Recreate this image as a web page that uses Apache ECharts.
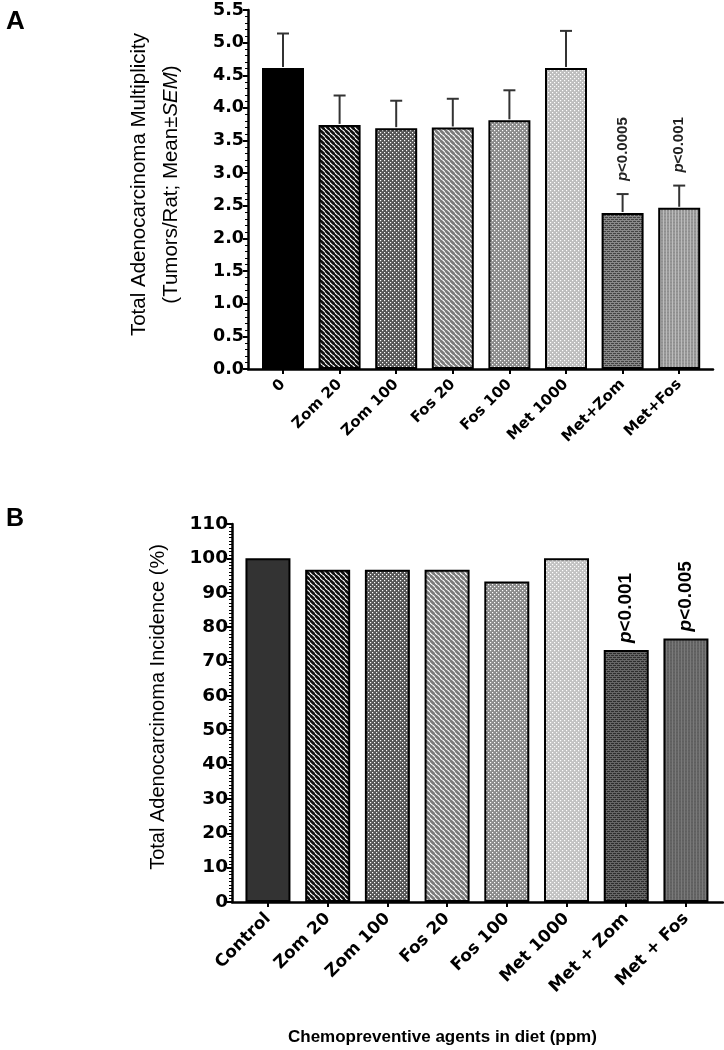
<!DOCTYPE html>
<html><head><meta charset="utf-8">
<script src="https://cdn.jsdelivr.net/npm/echarts@6/dist/echarts.min.js"></script>
<style>html,body{margin:0;padding:0;background:#fff}#c{width:724px;height:1050px}</style>
</head><body><div id="c"></div>
<script>
// ---- data ----
const catsA = ['0', 'Zom 20', 'Zom 100', 'Fos 20', 'Fos 100', 'Met 1000', 'Met+Zom', 'Met+Fos'];
const meanA = [4.61, 3.74, 3.69, 3.70, 3.81, 4.61, 2.39, 2.47];
const semA = [0.53, 0.45, 0.42, 0.44, 0.46, 0.57, 0.29, 0.34];
const pA = ['', '', '', '', '', '', 'p<0.0005', 'p<0.001'];
const catsB = ['Control', 'Zom 20', 'Zom 100', 'Fos 20', 'Fos 100', 'Met 1000', 'Met + Zom', 'Met + Fos'];
const incB = [100, 96.7, 96.7, 96.7, 93.3, 100, 73.3, 76.7];
const pB = ['', '', '', '', '', '', 'p<0.001', 'p<0.005'];

// ---- pattern fills ----
function pat(kind, fg, bg, s) {
  const c = document.createElement('canvas'); c.width = s; c.height = s;
  const g = c.getContext('2d');
  g.fillStyle = bg; g.fillRect(0, 0, s, s);
  g.fillStyle = fg; g.strokeStyle = fg;
  if (kind === 'diag') {
    g.lineWidth = s * 0.5;
    [[-s, 0, s, 2 * s], [0, 0, s, s], [0, -s, 2 * s, s]].forEach(l => { g.beginPath(); g.moveTo(l[0], l[1]); g.lineTo(l[2], l[3]); g.stroke(); });
  } else if (kind === 'dots') {
    const d = s / 4;
    g.fillRect(0, 0, d * 1.2, d * 1.2); g.fillRect(s / 2, s / 2, d * 1.2, d * 1.2);
  } else if (kind === 'brick') {
    g.fillRect(0, 0, s, 1); g.fillRect(0, s / 2, s, 1);
    g.fillRect(0, 0, 1, s / 2); g.fillRect(s / 2, s / 2, 1, s / 2);
  } else if (kind === 'vline') {
    g.fillRect(0, 0, 1, s); g.globalAlpha = 0.5; g.fillRect(0, s / 2, s, 1);
  }
  return { image: c, repeat: 'repeat' };
}
const fillA = ['#000', pat('diag', '#111', '#fff', 5.5), pat('dots', '#fff', '#555', 4), pat('diag', '#7a7a7a', '#fff', 5.5),
  pat('dots', '#fff', '#8a8a8a', 4), pat('dots', '#fff', '#bdbdbd', 4), pat('brick', '#888', '#444', 4), pat('vline', '#bbb', '#8e8e8e', 3)];
const fillB = ['#333', pat('diag', '#111', '#fff', 5.5), pat('dots', '#fff', '#555', 4), pat('diag', '#7a7a7a', '#fff', 5.5),
  pat('dots', '#fff', '#8a8a8a', 4), pat('dots', '#fff', '#c2c2c2', 4), pat('brick', '#666', '#2e2e2e', 4), pat('vline', '#7a7a7a', '#5e5e5e', 3)];

const tickFont = { fontFamily: 'DejaVu Sans', fontWeight: 'bold', color: '#000' };
const nameFont = { fontFamily: 'Liberation Sans', color: '#000' };
const pRichA = { i: { fontFamily: 'Liberation Sans', fontStyle: 'italic', fontWeight: 'bold', fontSize: 15, fill: '#222', color: '#222' },
  n: { fontFamily: 'Liberation Sans', fontWeight: 'bold', fontSize: 15, fill: '#222', color: '#222' } };
const pRichB = { i: { fontFamily: 'Liberation Sans', fontStyle: 'italic', fontWeight: 'bold', fontSize: 19, color: '#000' },
  n: { fontFamily: 'Liberation Sans', fontWeight: 'bold', fontSize: 19, color: '#000' } };

const chart = echarts.init(document.getElementById('c'), null, { renderer: 'canvas' });

const gA = { top: 10, height: 359 };
const gB = { top: 524, height: 378 };

chart.setOption({
  animation: false,
  title: [
    { text: 'A', left: 1, top: 4, textStyle: { fontFamily: 'Liberation Sans', fontWeight: 'bold', fontSize: 26, color: '#000' } },
    { text: 'B', left: 1, top: 502, textStyle: { fontFamily: 'Liberation Sans', fontWeight: 'bold', fontSize: 25, color: '#000' } },
    { text: 'Chemopreventive agents in diet (ppm)', left: 283, top: 1024, textStyle: { fontFamily: 'Liberation Sans', fontWeight: 'bold', fontSize: 17, color: '#000' } }
  ],
  grid: [
    { left: 254.7, width: 452.8, top: gA.top, height: gA.height },
    { left: 248, width: 465, top: gA.top, height: gA.height },
    { left: 238.1, width: 477.7, top: gB.top, height: gB.height },
    { left: 232, width: 491, top: gB.top, height: gB.height }
  ],
  xAxis: [
    { gridIndex: 0, type: 'category', data: catsA, axisLine: { show: false },
      axisTick: { show: true, alignWithLabel: true, length: 5, lineStyle: { color: '#000', width: 2 } },
      axisLabel: Object.assign({ interval: 0, rotate: 45, fontSize: 15, margin: 13 }, tickFont) },
    { gridIndex: 1, type: 'value', min: 0, max: 1, axisLine: { show: true, lineStyle: { color: '#000', width: 2.5 } },
      axisTick: { show: false }, axisLabel: { show: false }, splitLine: { show: false } },
    { gridIndex: 2, type: 'category', data: catsB, axisLine: { show: false },
      axisTick: { show: true, alignWithLabel: true, length: 5, lineStyle: { color: '#000', width: 2 } },
      axisLabel: Object.assign({ interval: 0, rotate: 45, fontSize: 17, margin: 14 }, tickFont) },
    { gridIndex: 3, type: 'value', min: 0, max: 1, axisLine: { show: true, lineStyle: { color: '#000', width: 2.5 } },
      axisTick: { show: false }, axisLabel: { show: false }, splitLine: { show: false } }
  ],
  yAxis: [
    { gridIndex: 0, type: 'value', min: 0, max: 5.5, interval: 0.5, show: false },
    { gridIndex: 1, type: 'value', min: 0, max: 5.5, interval: 0.5,
      name: 'Total Adenocarcinoma Multiplicity\n(Tumors/Rat; Mean±{i|SEM})', nameLocation: 'middle', nameRotate: 90, nameGap: 61,
      nameTextStyle: Object.assign({ fontSize: 20.5, lineHeight: 32, align: 'center', padding: [0, 0, 0, 10],
        rich: { i: { fontFamily: 'Liberation Sans', fontStyle: 'italic', fontSize: 20.5, color: '#000' } } }, nameFont),
      axisLine: { show: true, lineStyle: { color: '#000', width: 2.5 } },
      axisTick: { show: true, length: 5, lineStyle: { color: '#000', width: 2 } },
      minorTick: { show: true, splitNumber: 5, length: 3, lineStyle: { color: '#000', width: 1 } },
      splitLine: { show: false }, minorSplitLine: { show: false },
      axisLabel: Object.assign({ fontSize: 17.5, margin: 4, formatter: v => v.toFixed(1) }, tickFont) },
    { gridIndex: 2, type: 'value', min: 0, max: 110, interval: 10, show: false },
    { gridIndex: 3, type: 'value', min: 0, max: 110, interval: 10,
      name: 'Total Adenocarcinoma Incidence (%)', nameLocation: 'middle', nameRotate: 90, nameGap: 64,
      nameTextStyle: Object.assign({ fontSize: 20, padding: [0, 0, 0, 12] }, nameFont),
      axisLine: { show: true, lineStyle: { color: '#000', width: 2.5 } },
      axisTick: { show: true, length: 5, lineStyle: { color: '#000', width: 2 } },
      minorTick: { show: true, splitNumber: 10, length: 3, lineStyle: { color: '#000', width: 1 } },
      splitLine: { show: false }, minorSplitLine: { show: false },
      axisLabel: Object.assign({ fontSize: 18.5, margin: 4 }, tickFont) }
  ],
  series: [
    { type: 'bar', xAxisIndex: 0, yAxisIndex: 0, barWidth: 42,
      data: meanA.map((v, i) => ({ value: v, itemStyle: { color: fillA[i] } })),
      itemStyle: { borderColor: '#000', borderWidth: 2 } },
    { type: 'custom', xAxisIndex: 0, yAxisIndex: 0, z: 3,
      data: meanA.map((v, i) => [i, v, semA[i]]),
      renderItem: function (params, api) {
        const i = api.value(0), m = api.value(1), e = api.value(2);
        const base = api.coord([i, m]);
        const top = api.coord([i, m + e]);
        const kids = [
          { type: 'line', shape: { x1: base[0], y1: base[1] - 1, x2: top[0], y2: top[1] }, style: { stroke: '#333', lineWidth: 2 } },
          { type: 'line', shape: { x1: top[0] - 6, y1: top[1], x2: top[0] + 6, y2: top[1] }, style: { stroke: '#333', lineWidth: 2 } }
        ];
        const p = pA[params.dataIndex];
        if (p) {
          kids.push({ type: 'text', x: top[0], y: top[1] - 13, rotation: Math.PI / 2,
            style: { text: '{i|p}{n|' + p.slice(1) + '}', rich: pRichA, align: 'left', verticalAlign: 'middle' } });
        }
        return { type: 'group', children: kids };
      } },
    { type: 'bar', xAxisIndex: 2, yAxisIndex: 2, barWidth: 45,
      data: incB.map((v, i) => ({ value: v, itemStyle: { color: fillB[i] } })),
      itemStyle: { borderColor: '#000', borderWidth: 2 },
      label: { show: true, position: 'top', distance: 7, rotate: 90, align: 'left', verticalAlign: 'middle',
        formatter: p => pB[p.dataIndex] ? '{i|p}{n|' + pB[p.dataIndex].slice(1) + '}' : '', rich: pRichB } }
  ]
});
</script></body></html>
